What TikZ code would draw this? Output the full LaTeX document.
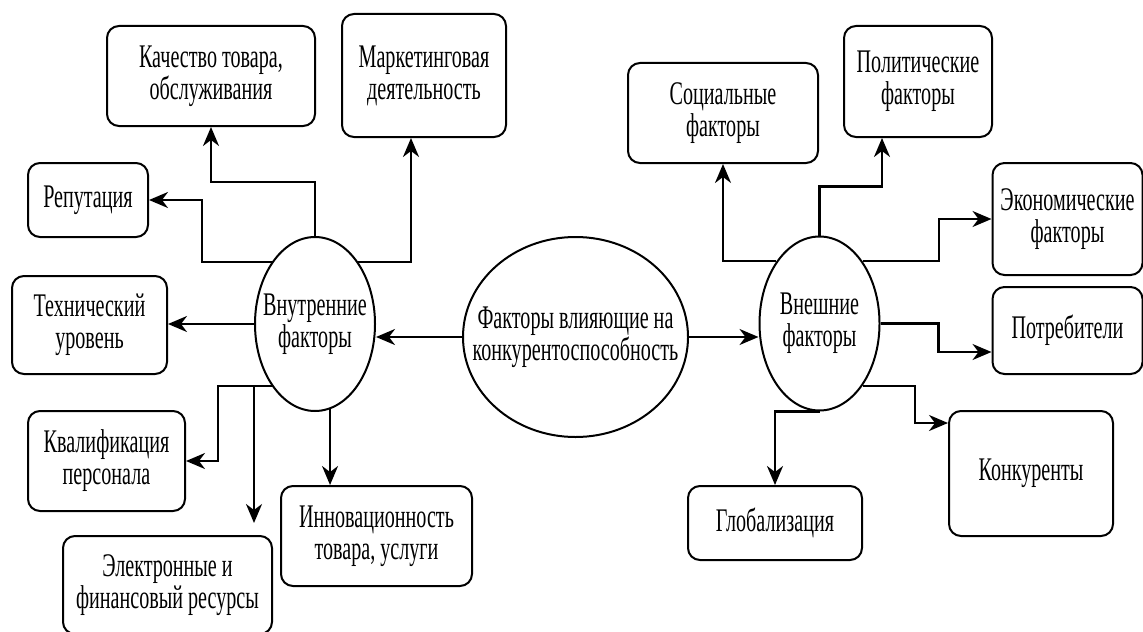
\documentclass[tikz,border=0pt]{standalone}
\usepackage{fontspec}
\setmainfont[FakeStretch=0.61]{Liberation Serif}
\usetikzlibrary{arrows.meta, calc, shapes.geometric}

\begin{document}
\begin{tikzpicture}[
    x=0.5pt, y=-0.5pt,
    % ── node styles ─────────────────────────────────────────
    factor/.style = { draw, rounded corners=6pt, line width=1pt, align=center,
            inner sep=2pt, font=\fontsize{16.5}{16}\selectfont, },
    group/.style = { draw, ellipse, line width=1pt, align=center,
            inner xsep=-16pt, inner ysep=0pt, font=\fontsize{16.5}{16}\selectfont, },
    link/.style = {-{Stealth[length=9.5pt, width=8pt, inset=3pt]}, line width=1.1pt},
    ]
    \useasboundingbox (0,0) rectangle (1143,631);

    % ============================================================
    % CENTRE — three groups
    % ============================================================
    \node[group, minimum width=112.5pt, minimum height=100pt]
    (central) at (575.5,337)
    {Факторы влияющие на\\конкурентоспособность};

    \node[group, minimum width=60pt, minimum height=87pt]
    (inner) at (315,324)
    {Внутренние\\факторы};

    \node[group, minimum width=60pt, minimum height=87pt]
    (outer) at (819.5,323.5)
    {Внешние\\факторы};

    % ============================================================
    % LEFT — internal factors
    % ============================================================
    \node[factor, minimum width=104pt, minimum height=50pt]
    (quality) at (211,76)
    {Качество товара,\\обслуживания};

    \node[factor, minimum width=82pt, minimum height=61.5pt]
    (marketing) at (424,75.5)
    {Маркетинговая\\деятельность};

    \node[factor, minimum width=60pt, minimum height=37pt]
    (reputation) at (88,200)
    {Репутация};

    \node[factor, minimum width=77.5pt, minimum height=49pt]
    (technical) at (89.5,325)
    {Технический\\уровень};

    \node[factor, minimum width=78.5pt, minimum height=50pt]
    (staff) at (106.5,461)
    {Квалификация\\персонала};

    \node[factor, minimum width=104.5pt, minimum height=49pt]
    (resources) at (167.5,585)
    {Электронные и\\финансовый ресурсы};

    \node[factor, minimum width=95.5pt, minimum height=50pt]
    (innovation) at (376.5,536)
    {Инновационность\\товара, услуги};

    % ============================================================
    % RIGHT — external factors
    % ============================================================
    \node[factor, minimum width=95pt, minimum height=50pt]
    (social) at (723,113)
    {Социальные\\факторы};

    \node[factor, minimum width=74pt, minimum height=55.5pt]
    (political) at (918,81.5)
    {Политические\\факторы};

    \node[factor, minimum width=75pt, minimum height=56pt]
    (economic) at (1067.5,219)
    {Экономические\\факторы};

    \node[factor, minimum width=75pt, minimum height=43.5pt]
    (consumers) at (1067.5,330.5)
    {Потребители};

    \node[factor, minimum width=82pt, minimum height=62.5pt]
    (rivals) at (1031,473.5)
    {Конкуренты};

    \node[factor, minimum width=87pt, minimum height=37pt]
    (globalization) at (775,523)
    {Глобализация};

    % ============================================================
    % ARROWS — internal
    % ============================================================
    \coordinate (resources-in) at ($(resources.north east)+(-19,0)$);

    \draw[link] (central.west) -- (central.west -| inner.east);
    \draw[link] (inner.north) -- ++(0,-54) -| (quality.south);
    \draw[link] (inner.north east) -| ($(marketing.south)+(-13,0)$);
    \draw[link] (inner.north west) -- ++(-70,0) |- (reputation.east);
    \draw[link] (inner.west) -- (inner.west -| technical.east);
    \draw[link] (inner.south west) -- ++(-54,0) |- (staff.east);
    \draw[link, shorten >=6pt] (inner.south west -| resources-in) -- (resources-in);
    \draw[link] (inner.-80.6) -- (inner.-80.6 |- innovation.north);

    % ============================================================
    % ARROWS — external
    % ============================================================
    \draw[link] (central.east) -- (central.east -| outer.west);
    \draw[link] (outer.north west) -| (social.south);
    \draw[link] (outer.north) -- ++(0,-49) -| ($(political.south)+(-36,0)$);
    \draw[link] (outer.north east) -- ++(76,0) |- (economic.west);
    \draw[link] (outer.east) -- ++(58,0) |- ($(consumers.west)+(0,21.5)$);
    \draw[link] (outer.south east) -- ++(52.6,0) |- ($(rivals.north west)+(0,13)$);
    \draw[link] (outer.south) -| (globalization.north);

\end{tikzpicture}
\end{document}
